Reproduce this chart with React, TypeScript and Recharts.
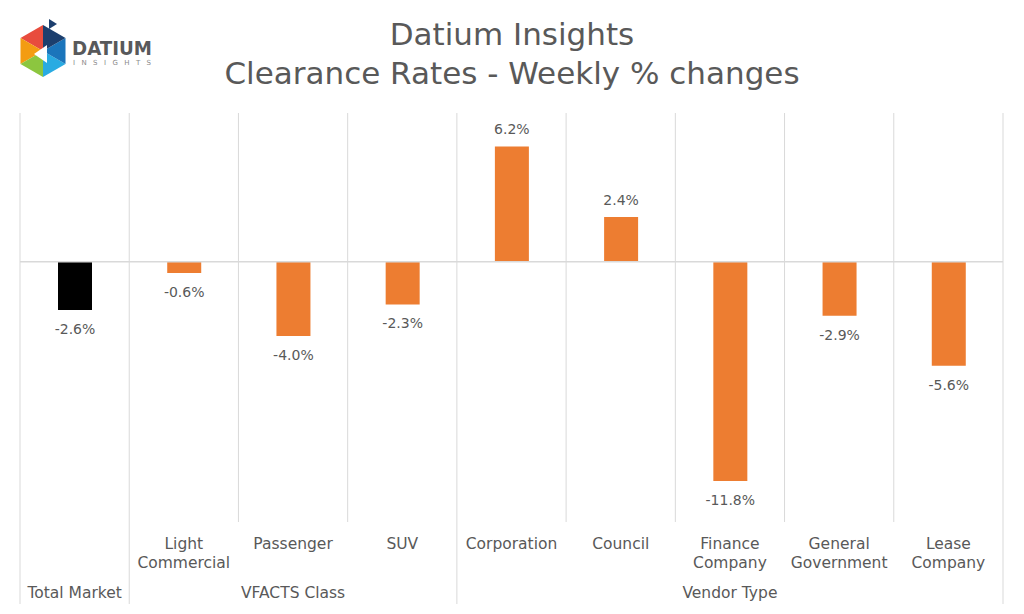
import { BarChart, Bar, XAxis, YAxis, CartesianGrid, ReferenceLine, Cell, LabelList } from "recharts";

const categories = [
  "Total Market",
  "Light\nCommercial",
  "Passenger",
  "SUV",
  "Corporation",
  "Council",
  "Finance\nCompany",
  "General\nGovernment",
  "Lease\nCompany",
];
const changes = [-2.6, -0.6, -4.0, -2.3, 6.2, 2.4, -11.8, -2.9, -5.6];
// group label drawn under the middle category of each group
const groupLabels: Record<number, string> = { 2: "VFACTS Class", 6: "Vendor Type" };
// category indexes that start a new group
const groupEdges = [0, 1, 4];

const FONT = "'DejaVu Sans', sans-serif";
const TEXT = "#595959";
const GRID = "#d9d9d9";

const data = categories.map((name, i) => ({ name, value: changes[i] }));

const W = 1024;
const H = 614;
const M = { top: 113, right: 21, bottom: 0, left: 20 };
const AXIS_H = 92;
const PLOT_BOTTOM = H - M.bottom - AXIS_H;

const CategoryTick = (props: any) => {
  const { x, payload, index } = props;
  const band = (W - M.left - M.right) / categories.length;
  const left = x - band / 2;
  const label: string = payload.value;
  const lines = label.split("\n");
  const els: any[] = [];
  if (groupEdges.includes(index)) {
    els.push(<line key="l" x1={left} x2={left} y1={PLOT_BOTTOM} y2={604} stroke={GRID} />);
  }
  if (index === categories.length - 1) {
    els.push(<line key="r" x1={left + band} x2={left + band} y1={PLOT_BOTTOM} y2={604} stroke={GRID} />);
  }
  if (index === 0) {
    els.push(
      <text key="t" x={x} y={598} textAnchor="middle" fill={TEXT} fontSize={15.5} fontFamily={FONT}>
        {label}
      </text>
    );
  } else {
    lines.forEach((ln, k) =>
      els.push(
        <text key={"c" + k} x={x} y={549 + k * 19} textAnchor="middle" fill={TEXT} fontSize={15.5} fontFamily={FONT}>
          {ln}
        </text>
      )
    );
  }
  if (groupLabels[index]) {
    els.push(
      <text key="g" x={x} y={598} textAnchor="middle" fill={TEXT} fontSize={15.5} fontFamily={FONT}>
        {groupLabels[index]}
      </text>
    );
  }
  return <g>{els}</g>;
};

const ValueLabel = (props: any) => {
  const { x, y, width, height, value } = props;
  const top = Math.min(y, y + height);
  const bottom = Math.max(y, y + height);
  const ty = value < 0 ? bottom + 19 : top - 17;
  return (
    <text x={x + width / 2} y={ty} dy="0.35em" textAnchor="middle" fill={TEXT} fontSize={14} fontFamily={FONT}>
      {value.toFixed(1)}%
    </text>
  );
};

const Logo = () => (
  <svg width={170} height={90} style={{ position: "absolute", left: 0, top: 0 }}>
    <g transform="translate(43,51)">
      <polygon points="0,-26 -22.5,-13 0,0" fill="#e84c3d" />
      <polygon points="-22.5,-13 -22.5,13 0,0" fill="#f39c12" />
      <polygon points="-22.5,13 0,26 0,0" fill="#8cc63f" />
      <polygon points="0,26 22.5,13 0,0" fill="#29abe2" />
      <polygon points="22.5,13 22.5,-13 0,0" fill="#1b75bb" />
      <polygon points="22.5,-13 0,-26 0,0" fill="#1c3f6e" />
      <polygon points="-9,3 4,-6 4,12" fill="#ffffff" />
      <polygon points="6,-32 14,-27 6,-22" fill="#1c3f6e" />
    </g>
    <text
      x={72}
      y={55}
      fill="#58595b"
      fontSize={19}
      fontFamily={FONT}
      fontWeight={600}
      textLength={80}
      lengthAdjust="spacingAndGlyphs"
    >
      DATIUM
    </text>
    <text x={73} y={65} fill="#8a8a8a" fontSize={7} textLength={78} fontFamily={FONT}>
      INSIGHTS
    </text>
  </svg>
);

export default function App() {
  return (
    <div style={{ position: "absolute", left: 0, top: 0, width: W, height: H, background: "#fff" }}>
      <Logo />
      <div
        style={{
          position: "absolute",
          left: 0,
          top: 15,
          width: W,
          textAlign: "center",
          color: TEXT,
          fontFamily: FONT,
          fontSize: 31,
          lineHeight: "39px",
        }}
      >
        <div>Datium Insights</div>
        <div>Clearance Rates - Weekly % changes</div>
      </div>
      <div style={{ position: "absolute", left: 0, top: 0 }}>
        <BarChart width={W} height={H} data={data} margin={M} barSize={34}>
          <CartesianGrid
            horizontal={false}
            stroke={GRID}
            verticalCoordinatesGenerator={({ offset }: any) =>
              Array.from({ length: categories.length + 1 }, (_, i) => offset.left + (i * offset.width) / categories.length)
            }
          />
          <XAxis
            dataKey="name"
            height={AXIS_H}
            axisLine={false}
            tickLine={false}
            interval={0}
            tick={<CategoryTick />}
          />
          <YAxis hide domain={[-14, 8]} />
          <ReferenceLine y={0} stroke={GRID} strokeWidth={1.5} />
          <Bar dataKey="value" isAnimationActive={false}>
            {data.map((d, i) => (
              <Cell key={d.name} fill={i === 0 ? "#000000" : "#ED7D31"} />
            ))}
            <LabelList dataKey="value" content={<ValueLabel />} />
          </Bar>
        </BarChart>
      </div>
    </div>
  );
}
